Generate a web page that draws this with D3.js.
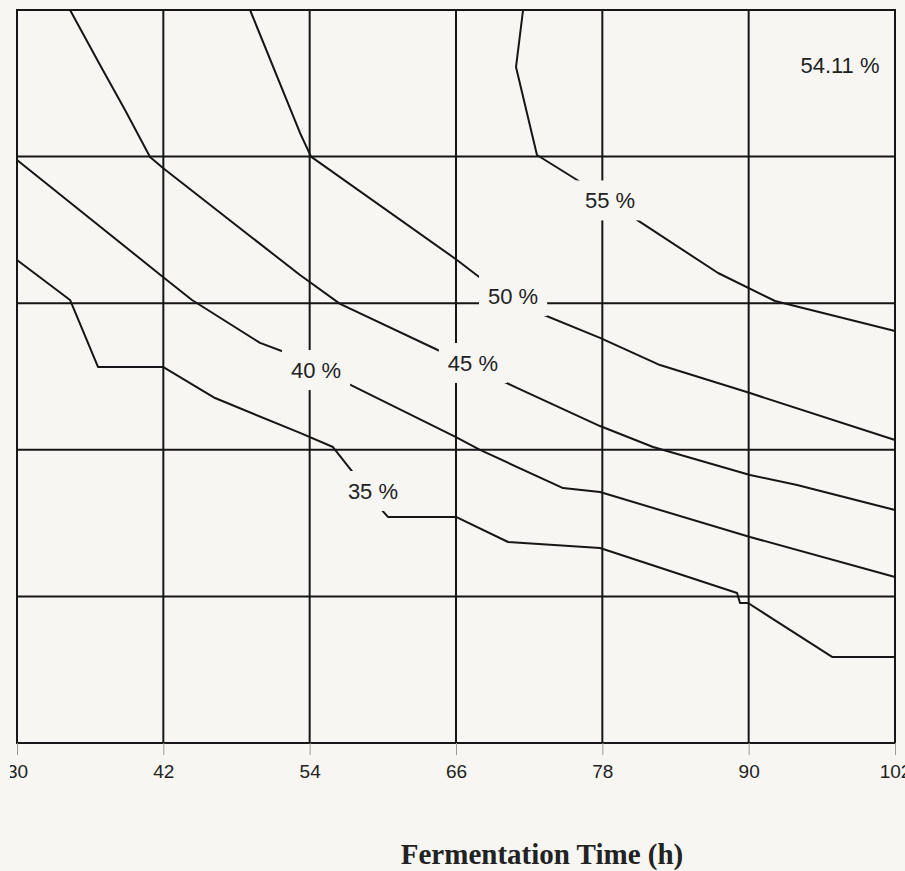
<!DOCTYPE html>
<html>
<head>
<meta charset="utf-8">
<script src="https://cdn.jsdelivr.net/npm/d3@7"></script>
<style>
  html, body { margin: 0; padding: 0; background: #f7f6f3; }
  svg { display: block; }
</style>
</head>
<body>
<svg id="chart" width="905" height="871"></svg>
<script>
// ---- data ----
const xTicks = [30, 42, 54, 66, 78, 90, 102];
const yGrid = [0, 1, 2, 3, 4, 5];          // horizontal grid rows (y-axis labels not visible)
const xTitle = "Fermentation Time (h)";

const contour35 = [[30,3.295],[34.35,3.022],[36.64,2.565],[41.97,2.565],[46.24,2.353],[53.21,2.115],
  [55.91,2.019],[57.72,1.828],[59.77,1.603],[60.42,1.542],[66.00,1.542],[70.27,1.371],[77.81,1.330],
  [89.05,1.023],[89.29,0.955],[89.95,0.955],[96.84,0.587],[102,0.587]];
const contour40 = [[30,3.977],[41.97,3.179],[44.35,3.022],[49.93,2.729],[52.14,2.660],[57.72,2.428],
  [66.00,2.087],[67.97,1.999],[74.78,1.739],[77.81,1.712],[90.11,1.405],[102,1.132]];
const contour45 = [[34.35,5.0],[36.81,4.625],[38.86,4.318],[40.91,3.997],[41.97,3.922],[53.21,3.192],
  [56.49,2.995],[64.85,2.667],[71.00,2.422],[77.81,2.162],[82.16,2.019],[90.11,1.828],[93.97,1.760],[102,1.589]];
const contour50 = [[49.11,5.0],[53.21,4.161],[54.11,4.0],[66.08,3.295],[68.22,3.158],[71.82,2.967],
  [77.81,2.763],[82.73,2.578],[90.11,2.387],[102,2.067]];
const contour55 = [[71.50,5.0],[70.92,4.611],[72.64,4.011],[76.33,3.820],[80.84,3.568],[87.49,3.206],
  [92.16,3.015],[102,2.810]];
const contours = [contour35, contour40, contour45, contour50, contour55];

const labelTexts = ["35 %", "40 %", "45 %", "50 %", "55 %"];
const labelX = [59.19, 54.52, 67.39, 70.68, 78.63];
const labelY = [1.719, 2.544, 2.592, 3.049, 3.701];

const maxText = "54.11 %";
const maxX = 97.49, maxY = 4.625;

// ---- layout ----
const svg = d3.select("#chart");
const bg = "#f7f6f3";
const ink = "#161616";
const margin = {left: 17, top: 10, right: 10, bottom: 128};
const W = 905, H = 871;
const x = d3.scaleLinear().domain([30, 102]).range([margin.left, W - margin.right]);
const y = d3.scaleLinear().domain([0, 5]).range([H - margin.bottom, margin.top]);

svg.append("rect").attr("width", W).attr("height", H).attr("fill", bg);

svg.append("defs").append("clipPath").attr("id", "cutLeft")
  .append("rect").attr("x", 10).attr("y", 0).attr("width", W).attr("height", H);

// grid
const grid = svg.append("g").attr("stroke", ink).attr("stroke-width", 2).attr("fill", "none");
grid.selectAll("line.v").data(xTicks).join("line").attr("class", "v")
  .attr("x1", d => x(d)).attr("x2", d => x(d))
  .attr("y1", y(0)).attr("y2", y(5));
grid.selectAll("line.h").data(yGrid).join("line").attr("class", "h")
  .attr("x1", x(30) - 1).attr("x2", x(102) + 1)
  .attr("y1", d => y(d)).attr("y2", d => y(d));

// x axis (ticks + labels)
const axis = d3.axisBottom(x).tickValues(xTicks).tickSize(12).tickPadding(10).tickFormat(d3.format("d"));
const gx = svg.append("g").attr("transform", `translate(0,${y(0)})`).attr("clip-path", "url(#cutLeft)").call(axis);
gx.select(".domain").remove();
gx.selectAll(".tick line").attr("stroke", "#9a9a9a").attr("stroke-width", 1);
gx.selectAll(".tick text").attr("font-family", "'Liberation Sans', Arial, sans-serif")
  .attr("font-size", 19).attr("fill", "#222").attr("dy", "0.71em");

// contour lines
const line = d3.line().x(d => x(d[0])).y(d => y(d[1]));
svg.append("g").selectAll("path").data(contours).join("path")
  .attr("d", line).attr("fill", "none").attr("stroke", ink).attr("stroke-width", 2)
  .attr("stroke-linejoin", "round");

// contour labels with background masks
const lab = svg.append("g");
labelTexts.forEach((t, i) => {
  const g = lab.append("g");
  const rect = g.append("rect").attr("fill", bg);
  const txt = g.append("text")
    .attr("x", x(labelX[i])).attr("y", y(labelY[i])).attr("dy", "0.36em")
    .attr("text-anchor", "middle")
    .attr("font-family", "'Liberation Sans', Arial, sans-serif")
    .attr("font-size", 22).attr("fill", "#222").text(t);
  const bb = txt.node().getBBox();
  rect.attr("x", bb.x - 9).attr("width", bb.width + 18)
      .attr("y", y(labelY[i]) - 20).attr("height", 40);
});

svg.append("text").attr("x", x(maxX)).attr("y", y(maxY)).attr("dy", "0.36em")
  .attr("text-anchor", "middle")
  .attr("font-family", "'Liberation Sans', Arial, sans-serif")
  .attr("font-size", 22).attr("fill", "#222").text(maxText);

// axis title
svg.append("text").attr("x", 542).attr("y", 864).attr("text-anchor", "middle")
  .attr("font-family", "'Liberation Serif', 'Times New Roman', serif")
  .attr("font-weight", "bold").attr("font-size", 29).attr("fill", "#222").text(xTitle);
</script>
</body>
</html>
